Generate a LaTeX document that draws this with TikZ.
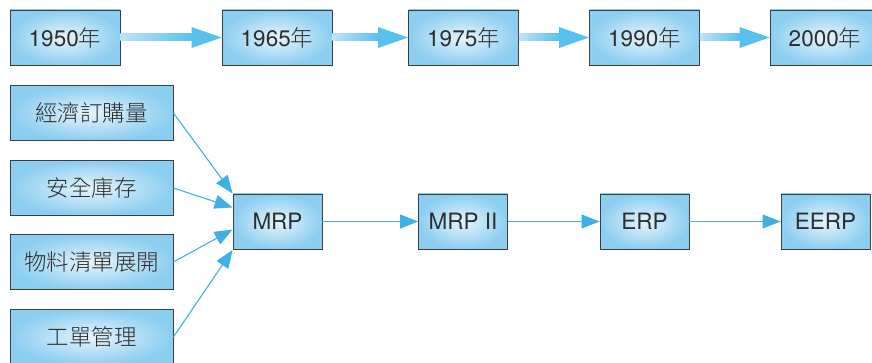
\documentclass[tikz,border=0pt]{standalone}
\usepackage{fontspec}
\setmainfont{TeX Gyre Heros}
\newfontfamily\cjk{Noto Sans CJK TC Light}
\usetikzlibrary{arrows.meta,calc}
\definecolor{boxedge}{RGB}{140,206,240}
\definecolor{boxmid}{RGB}{230,244,252}
\definecolor{frame}{RGB}{60,62,70}
\definecolor{flow}{RGB}{62,176,228}
\definecolor{shaftlight}{RGB}{192,228,246}
\definecolor{shaftdark}{RGB}{88,192,236}
\tikzset{
  box/.style={draw=frame, line width=0.9pt, inner color=boxmid, outer color=boxedge,
    minimum height=55pt, font=\fontsize{22.5}{26}\selectfont, text=black!82, inner sep=0pt},
  yearbox/.style={box, minimum width=110pt},
  srcbox/.style={box, minimum width=163pt},
  sysbox/.style={box, minimum width=89pt},
  link/.style={draw=flow, line width=1.1pt, -{Triangle[length=18pt,width=14pt]}},
}
\newcommand{\yeararrow}[2]{%
  \shade[left color=shaftlight, right color=shaftdark]
    ($(#1.east)+(0,-3.5)$) rectangle ($(#2.west)+(-30,3.5)$);
  \fill[shaftdark] (#2.west) -- ++(-30,-10.5) -- ++(0,21) -- cycle;
}
\begin{document}
\begin{tikzpicture}[x=1pt,y=-1pt]
\useasboundingbox (0,0) rectangle (872,363);

% timeline
\node[yearbox] (y50) at (65,37.5)  {1950{\cjk 年}};
\node[yearbox] (y65) at (277,37.5) {1965{\cjk 年}};
\node[yearbox] (y75) at (463.5,37.5) {1975{\cjk 年}};
\node[yearbox] (y90) at (644.5,37.5) {1990{\cjk 年}};
\node[yearbox] (y00) at (825,37.5) {2000{\cjk 年}};
\yeararrow{y50}{y65}
\yeararrow{y65}{y75}
\yeararrow{y75}{y90}
\yeararrow{y90}{y00}

% inputs to MRP
\node[srcbox] (eoq)  at (91.5,113) {\cjk 經濟訂購量};
\node[srcbox] (ss)   at (91.5,188) {\cjk 安全庫存};
\node[srcbox] (bom)  at (91.5,262) {\cjk 物料清單展開};
\node[srcbox] (wo)   at (91.5,337) {\cjk 工單管理};

% system evolution
\node[sysbox] (mrp)  at (277.5,221.5) {MRP};
\node[sysbox] (mrp2) at (463,221.5)   {MRP II};
\node[sysbox] (erp)  at (644.5,221.5) {ERP};
\node[sysbox] (eerp) at (825.5,221.5) {EERP};

\draw[link] (eoq.east) -- ($(mrp.west)+(0,-28)$);
\draw[link] (ss.east)  -- ($(mrp.west)+(0,-14)$);
\draw[link] (bom.east) -- ($(mrp.west)+(0,8)$);
\draw[link] (wo.east)  -- ($(mrp.west)+(0,28.5)$);

\draw[link] (mrp)  -- (mrp2);
\draw[link] (mrp2) -- (erp);
\draw[link] (erp)  -- (eerp);
\end{tikzpicture}
\end{document}
